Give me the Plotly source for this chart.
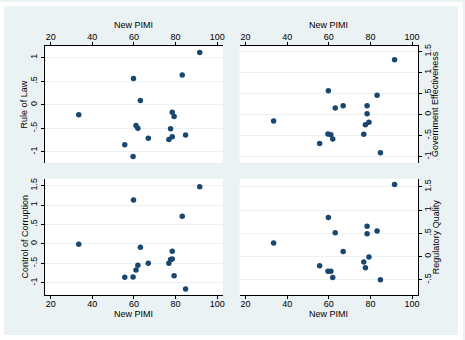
import plotly.graph_objects as go

# ---- data ----
new_pimi = [91.6, 83.2, 59.8, 63.1, 33.5, 66.9, 78.4, 78.4, 79.3, 77.6, 76.8, 59.6, 61.0, 61.9, 55.6, 84.8]
rule_of_law = [1.11, 0.63, 0.56, 0.09, -0.21, -0.71, -0.16, -0.68, -0.25, -0.51, -0.74, -1.10, -0.44, -0.50, -0.85, -0.64]
gov_effectiveness = [1.31, 0.46, 0.57, 0.16, -0.15, 0.21, 0.21, 0.02, -0.18, -0.24, -0.47, -0.46, -0.48, -0.58, -0.69, -0.91]
control_corruption = [1.47, 0.71, 1.13, -0.09, -0.01, -0.50, -0.19, -0.39, -0.82, -0.40, -0.50, -0.85, -0.67, -0.55, -0.86, -1.16]
regulatory_quality = [1.55, 0.55, 0.84, 0.51, 0.29, 0.11, 0.65, 0.49, -0.01, -0.24, -0.12, -0.32, -0.32, -0.45, -0.20, -0.50]

x_ticks = [20, 40, 60, 80, 100]
x_title = "New PIMI"
y_titles = ["Rule of Law", "Government Effectiveness", "Control of Corruption", "Regulatory Quality"]
y_tick_vals = [-1, -0.5, 0, 0.5, 1, 1.5]
y_tick_text = ["-1", "-.5", "0", ".5", "1", "1.5"]

W, H = 465, 340
BG = "#EAF2F3"
MARK = "#1A476F"
FONT = "Liberation Sans, Arial, sans-serif"

def px_x(p):
    return p / W

def px_y(p):
    return 1 - p / H

# panel geometry in pixels (left, right, top, bottom)
cols = [(45, 224), (240.7, 419.7)]
rows = [(44.5, 161.7), (177.7, 294.3)]
y_ranges = [[-1.232, 1.243], [-1.147, 1.63], [-1.304, 1.678], [-0.82, 1.678]]
x_range = [17.2, 102.8]

series = [rule_of_law, gov_effectiveness, control_corruption, regulatory_quality]

fig = go.Figure()
layout = dict(
    width=W, height=H,
    margin=dict(l=0, r=0, t=0, b=0),
    paper_bgcolor=BG, plot_bgcolor="white",
    showlegend=False,
    font=dict(family=FONT, size=9, color="black"),
)

annotations = []
for i, ys in enumerate(series):
    r, c = divmod(i, 2)
    n = "" if i == 0 else str(i + 1)
    fig.add_trace(go.Scatter(
        x=new_pimi, y=ys, mode="markers",
        marker=dict(color=MARK, size=5.5, line=dict(width=0)),
        xaxis="x" + n, yaxis="y" + n, hoverinfo="skip",
    ))
    xl, xr = cols[c]
    yt, yb = rows[r]
    lo, hi = y_ranges[i]
    tv = [v for v, t in zip(y_tick_vals, y_tick_text) if lo <= v <= hi]
    tt = [t for v, t in zip(y_tick_vals, y_tick_text) if lo <= v <= hi]
    layout["xaxis" + n] = dict(
        domain=[px_x(xl), px_x(xr)], range=x_range, anchor="y" + n,
        side="top" if r == 0 else "bottom",
        tickvals=x_ticks, ticks="outside", ticklen=3, tickcolor="black", tickwidth=1,
        ticklabelstandoff=-1 if r == 0 else -2,
        showline=True, linecolor="black", linewidth=1,
        showgrid=False, zeroline=False, tickfont=dict(size=9),
    )
    layout["yaxis" + n] = dict(
        domain=[px_y(yb), px_y(yt)], range=[lo, hi], anchor="x" + n,
        side="left" if c == 0 else "right",
        tickvals=tv, ticktext=tt, tickangle=-90,
        ticks="outside", ticklen=3, tickcolor="black", tickwidth=1,
        ticklabelstandoff=0 if c == 0 else -2,
        showline=True, linecolor="black", linewidth=1,
        showgrid=True, gridcolor=BG, gridwidth=1, zeroline=False,
        tickfont=dict(size=9),
    )
    # axis titles
    cx = (xl + xr) / 2
    ty = 23.5 if r == 0 else 313.5
    annotations.append(dict(text=x_title, x=px_x(cx), y=px_y(ty), xref="paper", yref="paper",
                            showarrow=False, xanchor="center", yanchor="middle",
                            font=dict(size=9)))
    tx = 25 if c == 0 else 437.5
    annotations.append(dict(text=y_titles[i], x=px_x(tx), y=px_y((yt + yb) / 2),
                            xref="paper", yref="paper", showarrow=False, textangle=-90,
                            xanchor="center", yanchor="middle", font=dict(size=9)))

layout["annotations"] = annotations
layout["shapes"] = [
    dict(type="rect", xref="paper", yref="paper", x0=0, x1=px_x(4), y0=0, y1=1,
         fillcolor="white", line=dict(width=0)),
    dict(type="rect", xref="paper", yref="paper", x0=px_x(460), x1=1, y0=0, y1=1,
         fillcolor="white", line=dict(width=0)),
    dict(type="rect", xref="paper", yref="paper", x0=0, x1=1, y0=px_y(4), y1=1,
         fillcolor="white", line=dict(width=0)),
    dict(type="rect", xref="paper", yref="paper", x0=0, x1=1, y0=0, y1=px_y(335),
         fillcolor="white", line=dict(width=0)),
]
fig.update_layout(**layout)
fig.write_html(
    "out.html",
    config={"displayModeBar": False},
    post_script="document.body.style.margin='0';document.body.style.overflow='hidden';",
)
